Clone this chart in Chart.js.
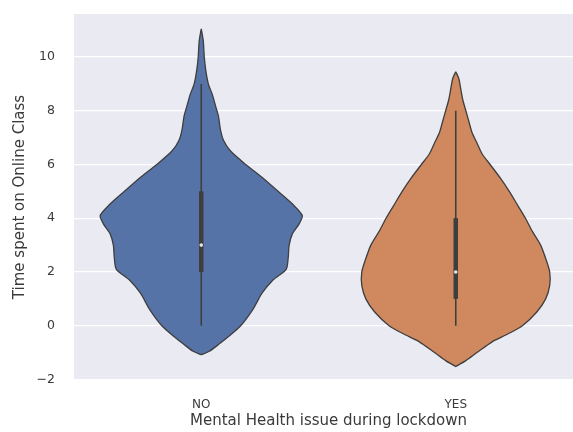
<!DOCTYPE html>
<html>
<head>
<meta charset="utf-8">
<script src="https://cdn.jsdelivr.net/npm/chart.js@4/dist/chart.umd.min.js"></script>
<style>
  html, body { margin: 0; padding: 0; background: #ffffff; overflow: hidden; }
  #wrap { position: absolute; left: 0; top: 0; width: 587px; height: 432px; }
</style>
</head>
<body>
<div id="wrap"><canvas id="c"></canvas></div>
<script>
// Categories and axis ticks
const categories = ['NO', 'YES'];
const yTicks = [-2, 0, 2, 4, 6, 8, 10];

// Kernel density outline of each group: levels (hours) and relative density
const noLevels  = [11.05, 10.6, 10.0, 9.5, 9.0, 8.6, 8.2, 7.8, 7.3, 6.9, 6.5, 6.0, 5.5, 5.0, 4.5, 4.1, 3.8, 3.4, 3.0, 2.5, 2.1, 1.7, 1.2, 0.6, 0.0, -0.4, -0.7, -0.95, -1.08];
const noDensity = [0, 0.02, 0.03, 0.045, 0.07, 0.11, 0.14, 0.17, 0.19, 0.22, 0.29, 0.44, 0.61, 0.76, 0.91, 1.0, 0.97, 0.90, 0.87, 0.86, 0.84, 0.71, 0.60, 0.51, 0.39, 0.27, 0.17, 0.08, 0];

const yesLevels  = [9.45, 9.2, 8.8, 8.4, 8.0, 7.6, 7.2, 6.8, 6.4, 6.0, 5.5, 5.0, 4.5, 4.0, 3.5, 3.0, 2.5, 2.0, 1.5, 1.0, 0.5, 0.0, -0.3, -0.6, -1.0, -1.3, -1.52];
const yesDensity = [0, 0.03, 0.05, 0.07, 0.10, 0.13, 0.16, 0.21, 0.26, 0.34, 0.44, 0.53, 0.61, 0.69, 0.76, 0.84, 0.89, 0.93, 0.93, 0.89, 0.80, 0.66, 0.52, 0.36, 0.21, 0.10, 0];

// Inner box statistics per category
const whiskerLow  = [0, 0];
const quartile1   = [2, 1];
const medians     = [3, 2];
const quartile3   = [5, 4];
const whiskerHigh = [9, 8];

// Drawing settings
const HALF_WIDTH = 0.397;
const fills = ['#5673a8', '#d0895e'];
const edge = '#3e3e3e';
const textColor = '#3a3a3a';
const FONT = "'DejaVu Sans', sans-serif";

function outline(center, levels, density) {
  const left = levels.map((v, i) => ({ x: center - density[i] * HALF_WIDTH, y: v }));
  const right = levels.map((v, i) => ({ x: center + density[i] * HALF_WIDTH, y: v })).reverse();
  return left.concat(right);
}

const violins = [[noLevels, noDensity], [yesLevels, yesDensity]];
const datasets = [];

violins.forEach(([lv, dn], i) => {
  datasets.push({
    type: 'line',
    data: outline(i, lv, dn),
    fill: 'shape',
    backgroundColor: fills[i],
    borderColor: edge,
    borderWidth: 1.3,
    pointRadius: 0,
    tension: 0.25,
    order: 5
  });
});

categories.forEach((_, i) => {
  datasets.push({
    type: 'line',
    data: [{ x: i, y: whiskerLow[i] }, { x: i, y: whiskerHigh[i] }],
    borderColor: edge,
    borderWidth: 1.6,
    pointRadius: 0,
    fill: false,
    order: 3
  });
  datasets.push({
    type: 'line',
    data: [{ x: i, y: quartile1[i] }, { x: i, y: quartile3[i] }],
    borderColor: edge,
    borderWidth: 4.5,
    borderCapStyle: 'butt',
    pointRadius: 0,
    fill: false,
    order: 2
  });
});

datasets.push({
  type: 'scatter',
  data: medians.map((m, i) => ({ x: i, y: m })),
  backgroundColor: '#e6e6e6',
  borderWidth: 0,
  pointRadius: 1.8,
  order: 1
});

const plotBackground = {
  id: 'plotBackground',
  beforeDraw(chart) {
    const { ctx, chartArea: a } = chart;
    ctx.save();
    ctx.fillStyle = '#eaeaf2';
    ctx.fillRect(a.left, a.top, a.right - a.left, a.bottom - a.top);
    ctx.restore();
  }
};

new Chart(document.getElementById('c'), {
  type: 'line',
  data: { datasets },
  options: {
    responsive: true,
    maintainAspectRatio: false,
    devicePixelRatio: 1,
    animation: false,
    layout: { padding: { top: 14, right: 0, bottom: 0, left: 0 } },
    plugins: { legend: { display: false }, tooltip: { enabled: false } },
    scales: {
      x: {
        type: 'linear',
        min: -0.5,
        max: 1.5,
        grid: { display: false, drawTicks: false },
        border: { display: false },
        afterBuildTicks: s => { s.ticks = categories.map((_, i) => ({ value: i })); },
        afterFit: s => { s.height = 52; s.paddingLeft = 0; s.paddingRight = 0; },
        ticks: {
          callback: v => categories[v],
          font: { family: FONT, size: 12 },
          color: textColor,
          padding: 18,
          maxRotation: 0
        },
        title: {
          display: true,
          text: 'Mental Health issue during lockdown',
          font: { family: FONT, size: 15 },
          color: textColor,
          padding: { top: 0, bottom: 2 }
        }
      },
      y: {
        type: 'linear',
        min: -2.02,
        max: 11.6,
        grid: { color: '#ffffff', lineWidth: 1.2, drawTicks: false },
        border: { display: false },
        afterBuildTicks: s => { s.ticks = yTicks.map(v => ({ value: v })); },
        afterFit: s => { s.width = 74; s.paddingTop = 0; s.paddingBottom = 0; },
        ticks: {
          callback: v => (v < 0 ? '\u2212' + Math.abs(v) : String(v)),
          font: { family: FONT, size: 12.5 },
          color: textColor,
          padding: 19
        },
        title: {
          display: true,
          text: 'Time spent on Online Class',
          font: { family: FONT, size: 15 },
          color: textColor,
          padding: { top: 11, bottom: 0 }
        }
      }
    }
  },
  plugins: [plotBackground]
});
</script>
</body>
</html>
